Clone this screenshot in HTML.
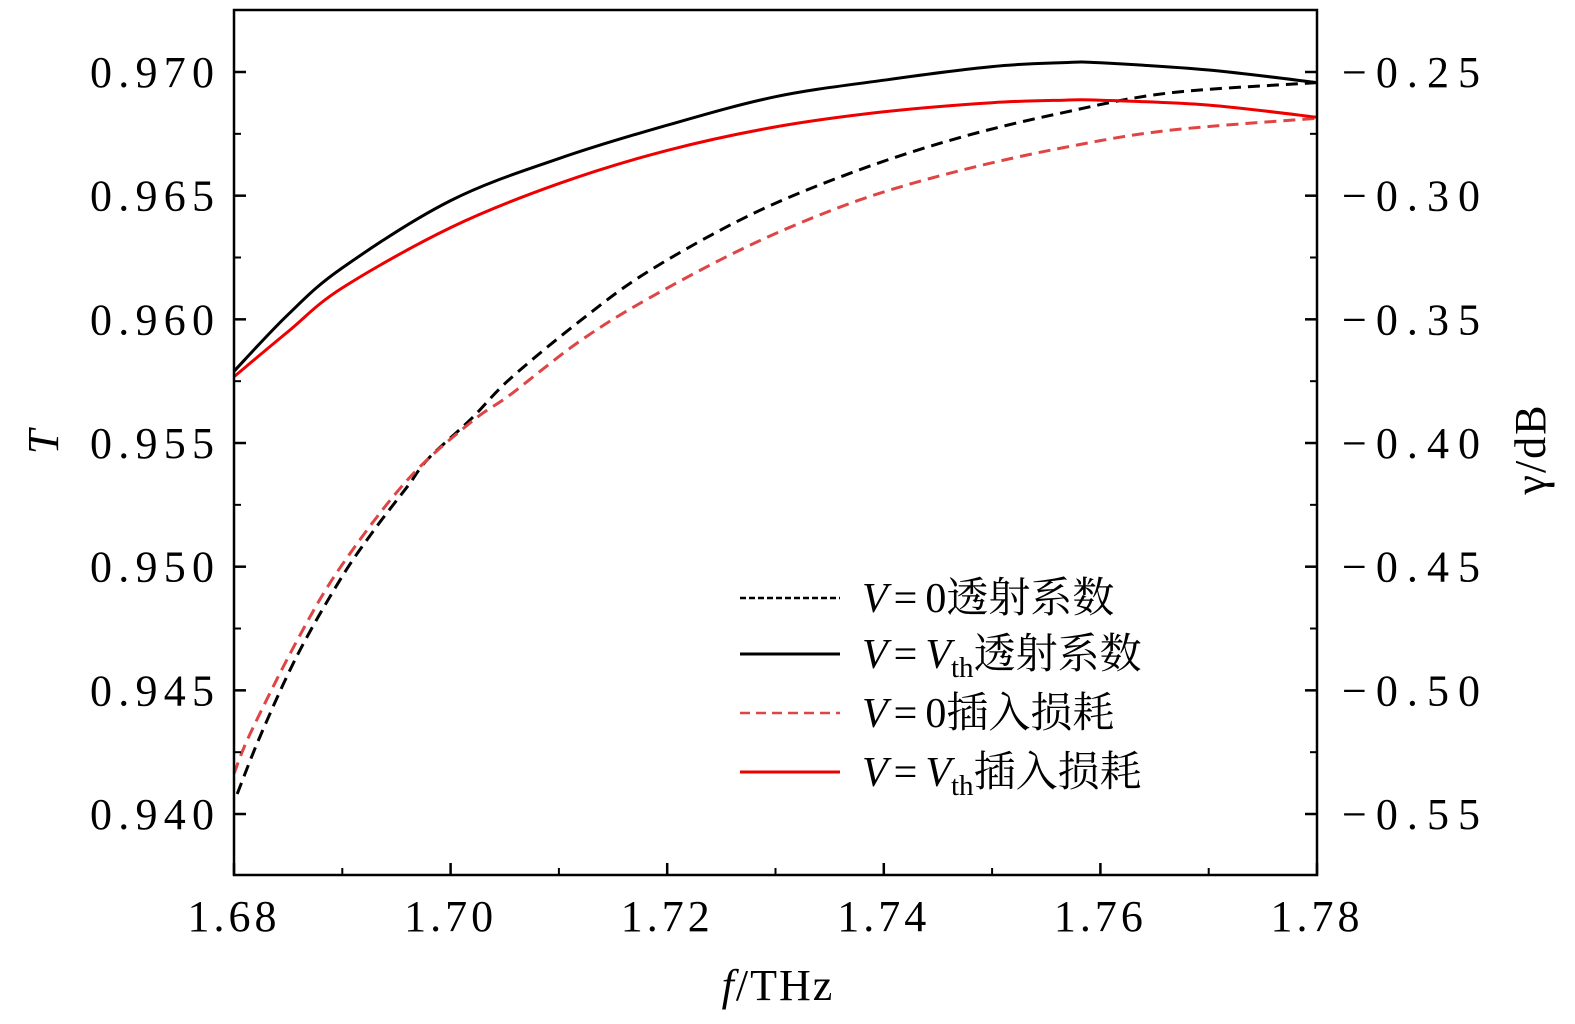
<!DOCTYPE html>
<html><head><meta charset="utf-8"><style>
html,body{margin:0;padding:0;background:#fff;overflow:hidden;width:1575px;height:1024px;}
svg{display:block;}
svg text{font-family:"Liberation Serif","Noto Serif CJK SC",serif;fill:#000;}
</style></head><body>
<svg id="chart" width="1575" height="1024" viewBox="0 0 1575 1024" xmlns="http://www.w3.org/2000/svg">
<text x="778" y="1000" font-size="44" letter-spacing="2" text-anchor="middle"><tspan font-style="italic">f</tspan>/THz</text>
<text transform="translate(58,442) rotate(-90)" font-size="44" text-anchor="middle" font-style="italic">T</text>
<text transform="translate(1545,449) rotate(-90)" font-size="44" letter-spacing="2" text-anchor="middle">γ/dB</text>
<g>
<line x1="740" y1="598" x2="840" y2="598" stroke="#000" stroke-width="2.5" stroke-dasharray="6,3"/>
<text x="862" y="612" font-size="42"><tspan font-style="italic">V</tspan><tspan dx="6">=</tspan><tspan dx="8">0透射系数</tspan></text>
<line x1="740" y1="654" x2="840" y2="654" stroke="#000" stroke-width="3"/>
<text x="862" y="668" font-size="42"><tspan font-style="italic">V</tspan><tspan dx="6">=</tspan><tspan dx="8" font-style="italic">V</tspan><tspan font-size="29" dy="9">th</tspan><tspan dy="-9">透射系数</tspan></text>
<line x1="740" y1="713" x2="840" y2="713" stroke="#e04545" stroke-width="2.5" stroke-dasharray="10,6"/>
<text x="862" y="727" font-size="42"><tspan font-style="italic">V</tspan><tspan dx="6">=</tspan><tspan dx="8">0插入损耗</tspan></text>
<line x1="740" y1="772" x2="840" y2="772" stroke="#ee0000" stroke-width="3"/>
<text x="862" y="786" font-size="42"><tspan font-style="italic">V</tspan><tspan dx="6">=</tspan><tspan dx="8" font-style="italic">V</tspan><tspan font-size="29" dy="9">th</tspan><tspan dy="-9">插入损耗</tspan></text>
</g>
</svg>
<script>
const xTicks=[1.68,1.70,1.72,1.74,1.76,1.78];
const xTickLabels=["1.68","1.70","1.72","1.74","1.76","1.78"];
const yLeftTicks=[0.970,0.965,0.960,0.955,0.950,0.945,0.940];
const yLeftLabels=["0.970","0.965","0.960","0.955","0.950","0.945","0.940"];
const yRightTicks=[-0.25,-0.30,-0.35,-0.40,-0.45,-0.50,-0.55];
const yRightLabels=["\u22120.25","\u22120.30","\u22120.35","\u22120.40","\u22120.45","\u22120.50","\u22120.55"];
const fSolid=[1.68,1.685,1.69,1.70,1.71,1.72,1.73,1.74,1.75,1.7566,1.76,1.77,1.78];
const tVth=[0.9579,0.9602,0.96208,0.9648,0.9665,0.96785,0.9690,0.96967,0.97022,0.97038,0.97037,0.97008,0.96957];
const lossVth=[0.95768,0.95951,0.96127,0.96371,0.96549,0.96683,0.96778,0.96839,0.96876,0.96886,0.96886,0.96866,0.96817];
const fBlackDash=[1.6803,1.6824,1.6858,1.6898,1.6929,1.6961,1.6979,1.7019,1.7055,1.7119,1.7183,1.7279,1.7376,1.7471,1.7567,1.7663,1.78];
const tV0=[-0.5419,-0.5187,-0.4862,-0.4553,-0.4354,-0.4171,-0.4065,-0.3902,-0.3740,-0.3508,-0.3305,-0.3073,-0.2898,-0.2764,-0.2663,-0.2585,-0.2543];
const fRedDash=[1.68,1.6815,1.6857,1.6898,1.6960,1.7019,1.7055,1.7119,1.7183,1.7279,1.7376,1.7471,1.7567,1.7663,1.78];
const lossV0=[-0.5337,-0.5175,-0.4809,-0.4504,-0.4150,-0.3915,-0.3805,-0.3589,-0.3415,-0.3195,-0.3020,-0.2898,-0.2805,-0.2736,-0.2687];

const L=234,R=1317,T=10,B=875;
const STEP=123.67;
const X=f=>L+(f-1.68)/0.1*(R-L);
const YL=v=>72+(0.970-v)/0.005*STEP;
const YR=v=>72+(-0.25-v)/0.05*STEP;
const svg=document.getElementById('chart');
const NS="http://www.w3.org/2000/svg";
function el(tag,attrs,parent){const e=document.createElementNS(NS,tag);for(const k in attrs)e.setAttribute(k,attrs[k]);(parent||svg).appendChild(e);return e;}

function smoothPath(pts){
  let d='M'+pts[0][0].toFixed(1)+','+pts[0][1].toFixed(1);
  for(let i=0;i<pts.length-1;i++){
    const p0=pts[Math.max(0,i-1)],p1=pts[i],p2=pts[i+1],p3=pts[Math.min(pts.length-1,i+2)];
    const c1=[p1[0]+(p2[0]-p0[0])/6,p1[1]+(p2[1]-p0[1])/6];
    const c2=[p2[0]-(p3[0]-p1[0])/6,p2[1]-(p3[1]-p1[1])/6];
    d+='C'+c1[0].toFixed(1)+','+c1[1].toFixed(1)+' '+c2[0].toFixed(1)+','+c2[1].toFixed(1)+' '+p2[0].toFixed(1)+','+p2[1].toFixed(1);
  }
  return d;
}
function curve(fs,vs,Y,color,dash,name){
  const pts=fs.map((f,i)=>[X(f),Y(vs[i])]);
  const p=el('path',{d:smoothPath(pts),fill:'none',stroke:color,'stroke-width':3,'stroke-dasharray':dash});
  
  
}
curve(fBlackDash,tV0,YR,'#000','12,7','series-v0-transmission');
curve(fRedDash,lossV0,YR,'#e04545','12,7','series-v0-insertion-loss');
curve(fSolid,tVth,YL,'#000','none','series-vth-transmission');
curve(fSolid,lossVth,YL,'#ee0000','none','series-vth-insertion-loss');

const frame=el('rect',{x:L,y:T,width:R-L,height:B-T,fill:'none',stroke:'#000','stroke-width':2.5});



xTicks.forEach((t,i)=>{
  const x=X(t);
  el('line',{x1:x,y1:B,x2:x,y2:B-12,stroke:'#000','stroke-width':2.5});
  if(i<xTicks.length-1){const xm=X(t+0.01);el('line',{x1:xm,y1:B,x2:xm,y2:B-7,stroke:'#000','stroke-width':2});}
  const tx=el('text',{x:x,y:931,'font-size':44,'letter-spacing':4,'text-anchor':'middle'});tx.textContent=xTickLabels[i];
  
  
});
yLeftTicks.forEach((t,i)=>{
  const y=YL(t);
  el('line',{x1:L,y1:y,x2:L+12,y2:y,stroke:'#000','stroke-width':2.5});
  el('line',{x1:R,y1:y,x2:R-12,y2:y,stroke:'#000','stroke-width':2.5});
  const ym=y-STEP/2;
  if(ym>T+2){el('line',{x1:L,y1:ym,x2:L+7,y2:ym,stroke:'#000','stroke-width':2});el('line',{x1:R,y1:ym,x2:R-7,y2:ym,stroke:'#000','stroke-width':2});}
  const ym2=y+STEP/2;
  if(ym2<B-2&&i==yLeftTicks.length-1){el('line',{x1:L,y1:ym2,x2:L+7,y2:ym2,stroke:'#000','stroke-width':2});el('line',{x1:R,y1:ym2,x2:R-7,y2:ym2,stroke:'#000','stroke-width':2});}
  const tl=el('text',{x:90,y:y+15,'font-size':44,textLength:124,lengthAdjust:'spacing'});tl.textContent=yLeftLabels[i];
  
  
});
yRightTicks.forEach((t,i)=>{
  const tr=el('text',{x:1342,y:YR(t)+15,'font-size':44,textLength:138,lengthAdjust:'spacing'});tr.textContent=yRightLabels[i];
  
  
});
</script>
</body></html>
